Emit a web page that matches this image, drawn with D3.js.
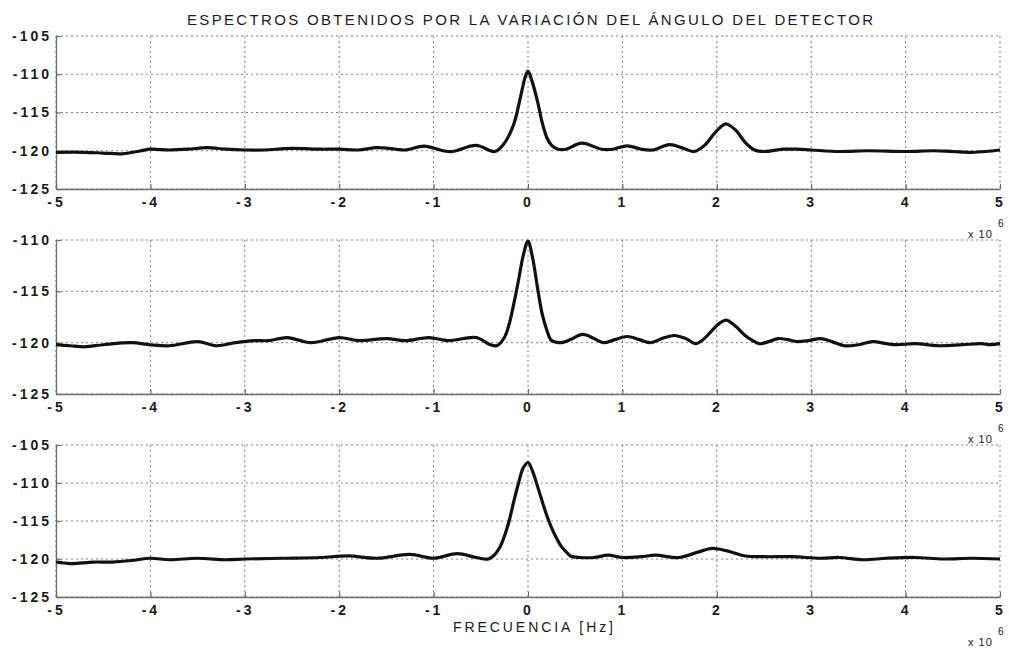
<!DOCTYPE html>
<html><head><meta charset="utf-8">
<script src="https://cdn.jsdelivr.net/npm/d3@7"></script>
<style>
html,body{margin:0;padding:0;background:#fff;}
svg{display:block;}
text{font-family:"Liberation Sans",Arial,sans-serif;fill:#1a1a1a;}
</style></head>
<body><svg id="chart" width="1009" height="648"></svg>
<script>
// ---- data (frequency in MHz, i.e. x 10^6 Hz; level in dB) ----
const titleText = "ESPECTROS OBTENIDOS POR LA VARIACIÓN DEL ÁNGULO DEL DETECTOR";
const xLabelText = "FRECUENCIA [Hz]";
const xTicks = [-5,-4,-3,-2,-1,0,1,2,3,4,5];
const yTicksTop = [-125,-120,-115,-110,-105];
const yTicksMid = [-125,-120,-115,-110];
const yTicksBot = [-125,-120,-115,-110,-105];

const freq1 = [-5,-4.7,-4.5,-4.3,-4.1,-4.0,-3.8,-3.6,-3.4,-3.2,-3.0,-2.8,-2.5,-2.2,-2.0,-1.8,-1.6,-1.4,-1.3,-1.1,-0.9,-0.8,-0.55,-0.35,-0.25,-0.15,-0.08,-0.03,0,0.04,0.1,0.15,0.2,0.25,0.32,0.4,0.57,0.78,0.9,1.05,1.2,1.32,1.5,1.65,1.76,1.87,1.97,2.05,2.1,2.2,2.3,2.4,2.5,2.7,2.85,3.0,3.3,3.6,4.0,4.3,4.5,4.7,4.85,5];
const spec1 = [-120.2,-120.2,-120.3,-120.4,-120.0,-119.8,-119.9,-119.8,-119.6,-119.8,-119.9,-119.9,-119.7,-119.8,-119.8,-119.9,-119.6,-119.8,-119.9,-119.4,-120.0,-120.1,-119.3,-120.1,-119.0,-116.5,-113.0,-110.4,-109.6,-110.8,-113.5,-116.3,-118.3,-119.3,-119.8,-119.8,-119.0,-119.8,-119.8,-119.35,-119.8,-119.9,-119.2,-119.7,-120.1,-119.3,-117.8,-116.8,-116.5,-117.3,-118.9,-119.9,-120.1,-119.8,-119.8,-119.9,-120.1,-120.0,-120.1,-120.0,-120.1,-120.2,-120.1,-119.9];

const freq2 = [-5,-4.85,-4.7,-4.5,-4.2,-4.0,-3.8,-3.5,-3.3,-3.1,-2.9,-2.75,-2.55,-2.3,-2.0,-1.8,-1.5,-1.3,-1.05,-0.85,-0.55,-0.4,-0.33,-0.25,-0.2,-0.15,-0.1,-0.05,0,0.05,0.1,0.15,0.2,0.25,0.35,0.45,0.58,0.7,0.8,0.92,1.05,1.18,1.3,1.42,1.55,1.67,1.78,1.88,1.95,2.03,2.1,2.2,2.3,2.38,2.45,2.55,2.65,2.75,2.85,2.97,3.1,3.22,3.35,3.5,3.65,3.8,3.9,4.1,4.35,4.6,4.8,4.9,5];
const spec2 = [-120.2,-120.3,-120.4,-120.2,-120.0,-120.2,-120.3,-119.9,-120.3,-120.0,-119.8,-119.8,-119.5,-120.0,-119.5,-119.8,-119.6,-119.8,-119.5,-119.8,-119.5,-120.2,-120.3,-119.5,-118.2,-116.2,-113.9,-111.5,-110.1,-111.8,-114.6,-117.2,-118.8,-119.8,-120.0,-119.7,-119.2,-119.6,-120.0,-119.7,-119.4,-119.7,-120.0,-119.6,-119.3,-119.6,-120.1,-119.5,-118.8,-118.1,-117.8,-118.4,-119.3,-119.8,-120.1,-119.9,-119.6,-119.7,-119.9,-119.8,-119.6,-119.9,-120.3,-120.2,-119.9,-120.1,-120.2,-120.1,-120.3,-120.2,-120.1,-120.2,-120.1];

const freq3 = [-5,-4.85,-4.6,-4.4,-4.2,-4.0,-3.8,-3.5,-3.2,-3.0,-2.6,-2.2,-1.9,-1.6,-1.25,-1.0,-0.75,-0.55,-0.42,-0.35,-0.3,-0.25,-0.2,-0.15,-0.1,-0.05,0,0.05,0.1,0.15,0.2,0.25,0.3,0.35,0.4,0.45,0.55,0.7,0.85,1.0,1.2,1.35,1.6,1.8,1.95,2.1,2.3,2.5,2.8,3.1,3.3,3.55,3.8,4.1,4.4,4.7,5];
const spec3 = [-120.4,-120.6,-120.4,-120.4,-120.2,-119.9,-120.1,-119.9,-120.1,-120.0,-119.9,-119.8,-119.6,-119.9,-119.4,-119.9,-119.3,-119.8,-120.0,-119.4,-118.5,-117.0,-115.0,-112.4,-110.0,-108.0,-107.3,-108.5,-110.4,-112.4,-114.3,-115.9,-117.2,-118.3,-119.0,-119.6,-119.8,-119.8,-119.5,-119.8,-119.7,-119.5,-119.8,-119.1,-118.6,-118.9,-119.6,-119.7,-119.7,-119.9,-119.8,-120.1,-119.9,-119.8,-120.0,-119.9,-120.0];

// ---- layout ----
const left = 56, right = 1000;
const panels = [
  {top:36,  bottom:189, domain:[-125,-105], yt:yTicksTop, f:freq1, v:spec1},
  {top:240, bottom:394, domain:[-125,-110], yt:yTicksMid, f:freq2, v:spec2},
  {top:445, bottom:597, domain:[-125,-105], yt:yTicksBot, f:freq3, v:spec3}
];

const svg = d3.select("#chart");
svg.append("rect").attr("width",1009).attr("height",648).attr("fill","#fff");

const x = d3.scaleLinear().domain([-5,5]).range([left,right]);
const fmt = d => String(d);

svg.append("text")
  .attr("x",187).attr("y",25)
  .attr("textLength",686).attr("lengthAdjust","spacing")
  .style("font-size","15px")
  .text(titleText);

panels.forEach((p,i)=>{
  const y = d3.scaleLinear().domain(p.domain).range([p.bottom,p.top]);
  const g = svg.append("g");
  g.append("rect").attr("x",left).attr("y",p.top).attr("width",right-left).attr("height",p.bottom-p.top).attr("fill","#fff");
  // grid
  g.selectAll(".gx").data(xTicks).enter().append("line")
    .attr("x1",d=>x(d)).attr("x2",d=>x(d)).attr("y1",p.top).attr("y2",p.bottom)
    .attr("stroke","#808080").attr("stroke-width",1).attr("stroke-dasharray","2,3");
  g.selectAll(".gy").data(p.yt).enter().append("line")
    .attr("x1",left).attr("x2",right).attr("y1",d=>y(d)).attr("y2",d=>y(d))
    .attr("stroke","#808080").attr("stroke-width",1).attr("stroke-dasharray","2,3");
  // axes
  const ax = g.append("g").attr("transform",`translate(0,${p.bottom})`)
    .call(d3.axisBottom(x).tickValues(xTicks).tickFormat(fmt).tickSizeInner(-5).tickSizeOuter(0).tickPadding(8));
  const ay = g.append("g").attr("transform",`translate(${left},0)`)
    .call(d3.axisLeft(y).tickValues(p.yt).tickFormat(fmt).tickSizeInner(-5).tickSizeOuter(0).tickPadding(4));
  [ax,ay].forEach(a=>{
    a.select(".domain").attr("stroke","#6e6e6e").attr("stroke-width",1.3);
    a.selectAll(".tick line").attr("stroke","#6e6e6e").attr("stroke-width",1.2);
    a.selectAll(".tick text").style("font-family","'Liberation Sans',Arial,sans-serif")
      .style("font-size","14px").style("font-weight","bold").style("letter-spacing","3px").attr("fill","#1a1a1a");
  });
  // curve
  const pts = p.f.map((f,k)=>[f,p.v[k]]);
  g.append("path").datum(pts)
    .attr("fill","none").attr("stroke","#111").attr("stroke-width",3.2).attr("stroke-linejoin","round")
    .attr("d",d3.line().x(d=>x(d[0])).y(d=>y(d[1])).curve(d3.curveCatmullRom.alpha(0.5)));
  // exponent label
  const e = g.append("g");
  e.append("text").attr("x",968).attr("y",p.bottom+49).style("font-size","11px").style("letter-spacing","1px").text("x 10");
  e.append("text").attr("x",998).attr("y",p.bottom+38).style("font-size","10px").text("6");
});

svg.append("text")
  .attr("x",453).attr("y",632)
  .attr("textLength",160).attr("lengthAdjust","spacing")
  .style("font-size","14px")
  .text(xLabelText);
</script></body></html>
